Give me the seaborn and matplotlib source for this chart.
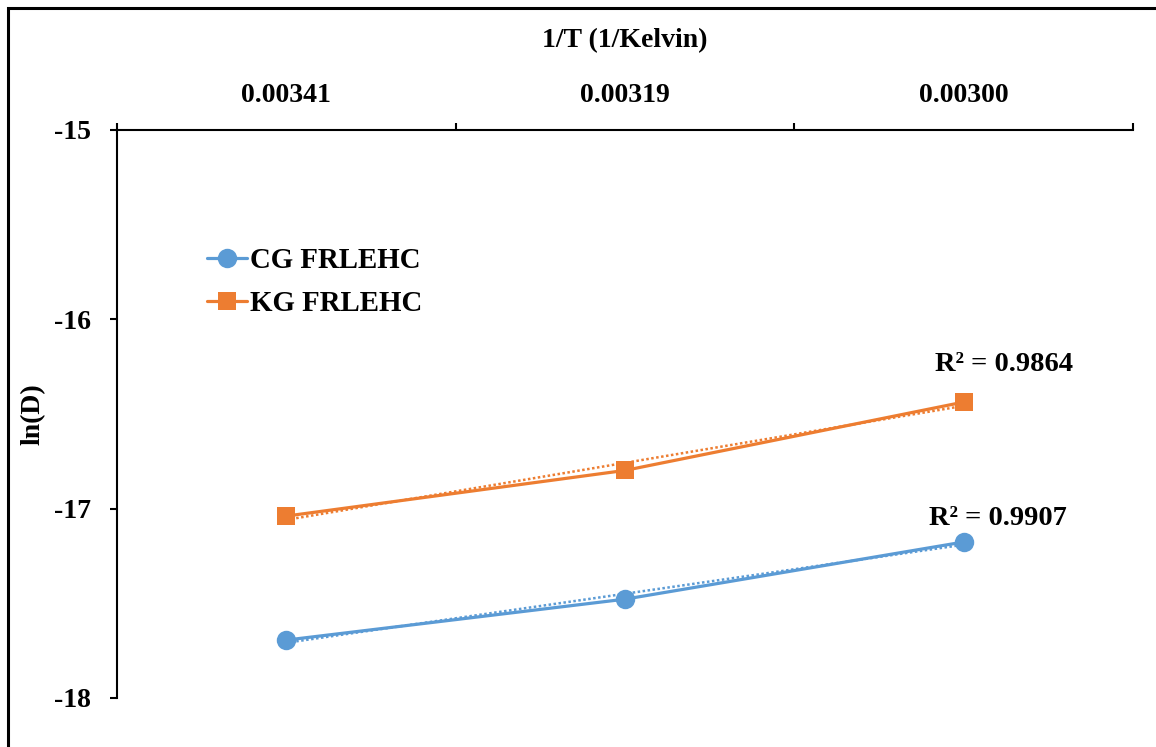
import numpy as np
import pandas as pd
import matplotlib
matplotlib.use("Agg")
import matplotlib.pyplot as plt
from matplotlib.patches import Rectangle
from matplotlib.lines import Line2D
from matplotlib.ticker import FixedLocator
import seaborn as sns

# Inverse temperature categories (1/Kelvin)
inv_temp = ["0.00341", "0.00319", "0.00300"]

# ln(D) for each material
cg_frlehc = [-17.694, -17.478, -17.176]
kg_frlehc = [-17.039, -16.798, -16.437]

series_names = ["CG FRLEHC", "KG FRLEHC"]
r2_labels = ["R² = 0.9907", "R² = 0.9864"]

yticks = [-15, -16, -17, -18]

blue = "#5B9BD5"
orange = "#ED7D31"

sns.set_theme(style="white")
plt.rcParams["font.family"] = ["Liberation Serif", "DejaVu Serif"]
plt.rcParams["font.weight"] = "bold"
plt.rcParams["text.color"] = "black"
plt.rcParams["axes.labelcolor"] = "black"
plt.rcParams["xtick.color"] = "black"
plt.rcParams["ytick.color"] = "black"

df = pd.DataFrame({
    "inv_temp": inv_temp * 2,
    "lnD": cg_frlehc + kg_frlehc,
    "series": [series_names[0]] * 3 + [series_names[1]] * 3,
})

fig = plt.figure(figsize=(11.56, 7.47), dpi=100)
ax = fig.add_axes([117 / 1156, 1 - 698 / 747, (1133 - 117) / 1156, (698 - 130) / 747])

styles = [(series_names[0], blue, "o", 14), (series_names[1], orange, "s", 13)]
for name, color, marker, ms in styles:
    sub = df[df["series"] == name]
    sns.lineplot(data=sub, x="inv_temp", y="lnD", ax=ax, color=color,
                 marker=marker, markersize=ms, markeredgewidth=0,
                 linewidth=2.3, legend=False, sort=False)

# Linear trend lines over the category positions
xpos = np.arange(len(inv_temp))
for vals, color in [(cg_frlehc, blue), (kg_frlehc, orange)]:
    coef = np.polyfit(xpos, vals, 1)
    ax.plot(xpos, np.polyval(coef, xpos), linestyle=(0, (1, 1)),
            color=color, linewidth=1.8, zorder=1)

ax.set_xlim(-0.5, len(inv_temp) - 0.5)
ax.set_ylim(-18, -15)
ax.set_yticks(yticks)
ax.set_yticklabels([str(t) for t in yticks])

# Category axis on top with boundary tick marks
ax.xaxis.tick_top()
ax.xaxis.set_label_position("top")
ax.set_xticks(xpos)
ax.set_xticklabels(inv_temp)
ax.xaxis.set_minor_locator(FixedLocator(np.arange(-0.5, len(inv_temp), 1.0)))
ax.tick_params(axis="x", which="major", length=0, pad=16, labelsize=20,
               labelcolor="black")
ax.tick_params(axis="x", which="minor", top=True, bottom=False,
               direction="out", length=5, width=1.5, color="black")
ax.tick_params(axis="y", which="major", left=True, direction="out",
               length=5, width=1.5, color="black", pad=14, labelsize=20,
               labelcolor="black")
for lbl in ax.get_xticklabels() + ax.get_yticklabels():
    lbl.set_fontweight("bold")

for side in ["bottom", "right"]:
    ax.spines[side].set_visible(False)
for side in ["top", "left"]:
    ax.spines[side].set_visible(True)
    ax.spines[side].set_color("black")
    ax.spines[side].set_linewidth(1.5)

ax.set_xlabel("1/T (1/Kelvin)", fontsize=20, fontweight="bold", labelpad=26,
              color="black")
ax.set_ylabel("ln(D)", fontsize=20, fontweight="bold", labelpad=6,
              color="black")

# R² annotations next to the last points
ax.text(2.1, -17.05, r2_labels[0], fontsize=20.5, fontweight="bold",
        ha="center", va="center", color="black")
ax.text(2.12, -16.24, r2_labels[1], fontsize=20.5, fontweight="bold",
        ha="center", va="center", color="black")

handles = [
    Line2D([], [], color=blue, marker="o", markersize=14, markeredgewidth=0,
           linewidth=2.3),
    Line2D([], [], color=orange, marker="s", markersize=13, markeredgewidth=0,
           linewidth=2.3),
]
leg = ax.legend(handles, series_names, loc="upper left",
                bbox_to_anchor=(0.063, 0.84), frameon=False,
                prop={"family": "Liberation Serif", "weight": "bold", "size": 20.8},
                handlelength=1.4, handletextpad=0.1, labelspacing=0.55)
for t in leg.get_texts():
    t.set_color("black")

# Outer frame around the chart
fig.patches.append(Rectangle((8 / 1156, -0.1), 1.2, 1.1 - 8 / 747,
                             transform=fig.transFigure, fill=False,
                             edgecolor="black", linewidth=2.2))

fig.savefig("out.png", dpi=100)
